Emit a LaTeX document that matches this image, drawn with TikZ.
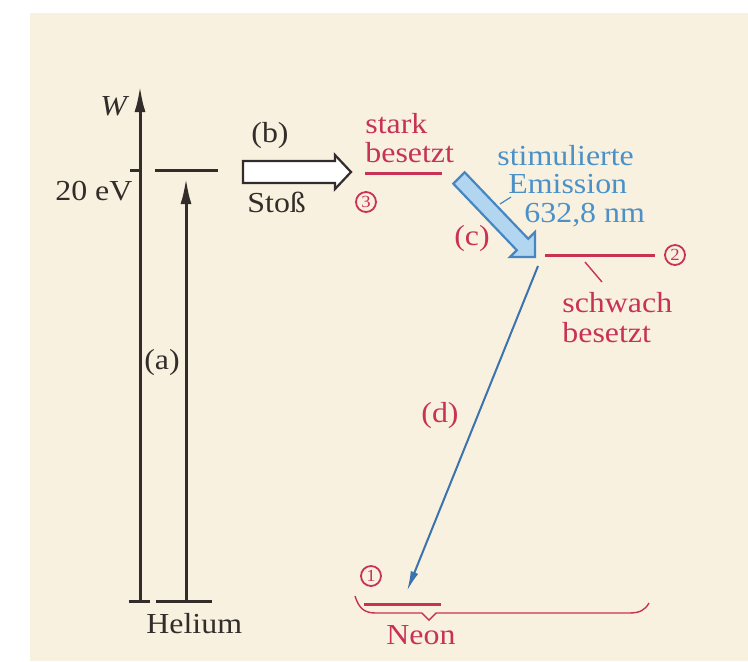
\documentclass[tikz,border=0pt]{standalone}
\usepackage{fontspec}
\setmainfont{Liberation Serif}[FakeStretch=1.1]
\usepackage{xcolor}
\usetikzlibrary{arrows.meta,positioning,calc}

\definecolor{paper}{RGB}{248,241,224}
\definecolor{inkgray}{RGB}{50,45,42}
\definecolor{neonred}{RGB}{200,50,85}
\definecolor{emisblue}{RGB}{75,145,200}
\definecolor{emisfill}{RGB}{178,214,240}
\definecolor{emisdraw}{RGB}{70,135,195}
\definecolor{dline}{RGB}{60,115,175}

\begin{document}
\begin{tikzpicture}[
    x=0.5pt, y=-0.5pt,
    font=\fontsize{14.5}{14.5}\selectfont,
    inkline/.style={draw=inkgray, line width=1.5pt},
    upArrow/.style={-{Latex[length=13pt, width=5.5pt]}, draw=inkgray, line width=1.5pt},
    neonLevel/.style={draw=neonred, line width=1.5pt},
    thinRed/.style={draw=neonred, line width=0.7pt},
    blockArrow/.style={fill=white, draw=inkgray, line width=1.1pt, line join=miter},
    emisArrow/.style={fill=emisfill, draw=emisdraw, line width=1.1pt, line join=miter},
    decayArrow/.style={-{Latex[length=10pt, width=4pt]}, draw=dline, line width=1pt},
    inkText/.style={text=inkgray, inner sep=0pt},
    redText/.style={text=neonred, inner sep=0pt},
    blueText/.style={text=emisblue, inner sep=0pt},
    circNum/.style={circle, draw=neonred, text=neonred, line width=0.9pt, inner sep=0pt,
        minimum size=10pt, font=\fontsize{8.5}{8.5}\selectfont}
]

% Paper
\fill[white] (0,0) rectangle (748,661);
\fill[paper] (30,13) rectangle (748,661);
\useasboundingbox (0,0) rectangle (748,661);

% Energy axis
\coordinate (axisB) at (140,601);
\coordinate (axisT) at (140,86);
\coordinate (footL) at (129,601);
\coordinate (footR) at (150,601);
\coordinate (tickL) at (130,170);
\coordinate (tickR) at (140,170);
\draw[upArrow] (axisB) -- (axisT);
\draw[inkline] (footL) -- (footR);
\draw[inkline] (tickL) -- (tickR);
\node[inkText, anchor=base west] (wlabel) at (100,115) {\textit{W}};
\node[inkText, anchor=base west] (ev) at (55,200) {20 eV};

% Helium
\coordinate (heB) at (186,601);
\coordinate (heT) at (186,178);
\coordinate (heBaseL) at (156,601);
\coordinate (heBaseR) at (212,601);
\coordinate (heLevL) at (155,170);
\coordinate (heLevR) at (218,170);
\draw[upArrow] (heB) -- (heT);
\draw[inkline] (heBaseL) -- (heBaseR);
\draw[inkline] (heLevL) -- (heLevR);
\node[inkText] (a) at (162,363) {(a)};
\node[inkText, anchor=base west] (helium) at (146,633) {Helium};

% Collision (b)
\draw[blockArrow] (243,161) -- (335,161) -- (335,155) -- (351,172) -- (335,189)
    -- (335,183) -- (243,183) -- cycle;
\node[inkText] (b) at (270,136) {(b)};
\node[inkText, anchor=base west] (stoss) at (247,212) {Stoß};

% Neon level 3
\coordinate (n3L) at (365,173);
\coordinate (n3R) at (442,173);
\draw[neonLevel] (n3L) -- (n3R);
\node[redText, anchor=base west] (stark) at (365,133) {stark};
\node[redText, anchor=base west] (besetztA) at (365,162) {besetzt};
\node[circNum] (three) at (366,202) {3};

% Stimulated emission (c)
\draw[emisArrow] (464.7,172.3) -- (528.2,238.8) -- (535,232) -- (535,257) -- (510,257)
    -- (516.8,250.2) -- (453.3,183.7) -- cycle;
\node[blueText, anchor=base west] (stim) at (497,165) {stimulierte};
\node[blueText, anchor=base west] (emis) at (508,193) {Emission};
\node[blueText, anchor=base west] (wave) at (524,222) {632,8 nm};
\coordinate (emisLeadA) at (500,204);
\coordinate (emisLeadB) at (511,197);
\draw[draw=emisdraw, line width=0.6pt] (emisLeadA) -- (emisLeadB);
\node[redText] (c) at (472,239) {(c)};

% Neon level 2
\coordinate (n2L) at (545,255);
\coordinate (n2R) at (655,255);
\draw[neonLevel] (n2L) -- (n2R);
\node[circNum] (two) at (675,255) {2};
\coordinate (n2LeadA) at (585,262);
\coordinate (n2LeadB) at (602,282);
\draw[thinRed] (n2LeadA) -- (n2LeadB);
\node[redText, anchor=base west] (schwach) at (562,312) {schwach};
\node[redText, anchor=base west] (besetztB) at (562,342) {besetzt};

% Decay (d)
\coordinate (dStart) at (538,266);
\coordinate (dEnd) at (407,591);
\draw[decayArrow] (dStart) -- (dEnd);
\node[redText] (d) at (440,416) {(d)};

% Neon level 1
\coordinate (n1L) at (364,604);
\coordinate (n1R) at (441,604);
\draw[neonLevel] (n1L) -- (n1R);
\node[circNum] (one) at (371,576) {1};
\draw[thinRed] (355,596) .. controls (359,609) and (365,613) .. (376,613) -- (422,613)
    -- (429,620) -- (436,613) -- (629,613) .. controls (640,613) and (645,610) .. (649,603);
\node[redText, anchor=base west] (neon) at (386,644) {Neon};

\end{tikzpicture}
\end{document}
